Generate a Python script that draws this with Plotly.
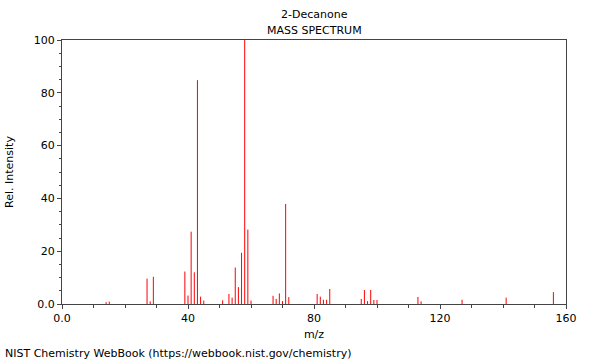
import plotly.graph_objects as go

mz = [14, 15, 27, 28, 29, 39, 40, 41, 42, 43, 44, 45, 51, 53, 54, 55, 56, 57, 58, 59, 60,
      67, 68, 69, 70, 71, 72, 81, 82, 83, 84, 85, 95, 96, 97, 98, 99, 100,
      113, 114, 127, 141, 156]
intensity = [0.7, 0.9, 9.6, 1.0, 10.3, 12.3, 3.2, 27.4, 12.0, 84.8, 2.8, 1.3, 1.4, 3.8, 2.4,
             13.8, 6.4, 19.4, 100.0, 28.2, 1.3,
             3.1, 1.9, 4.0, 1.1, 37.9, 2.6, 3.8, 2.8, 1.6, 1.6, 5.7, 1.9, 5.3, 1.1, 5.3, 1.5, 1.5,
             2.7, 1.0, 1.6, 2.4, 4.5]

ytick_vals = [0, 20, 40, 60, 80, 100]
ytick_text = ["0.0", "20", "40", "60", "80", "100"]
xtick_vals = [0, 40, 80, 120, 160]
xtick_text = ["0.0", "40", "80", "120", "160"]

xs, ys = [], []
for m, v in zip(mz, intensity):
    xs += [m, m, None]
    ys += [0, v, None]

fig = go.Figure(go.Scatter(x=xs, y=ys, mode="lines",
                           line=dict(color="#ff0000", width=1),
                           hoverinfo="skip", showlegend=False))

font = dict(family="DejaVu Sans", size=11, color="#000000")
fig.update_layout(
    width=600, height=360,
    margin=dict(l=62, r=34, t=40, b=56),
    paper_bgcolor="white", plot_bgcolor="white",
    font=font,
    showlegend=False,
)
fig.update_xaxes(range=[0, 160], tickvals=xtick_vals, ticktext=xtick_text,
                 ticks="outside", ticklen=4, tickcolor="#444", tickwidth=1,
                 showline=True, linecolor="#444", linewidth=1, mirror=True,
                 showgrid=False, zeroline=False, automargin=False,
                 minor=dict(dtick=10, tick0=0, ticks="outside", ticklen=3, tickcolor="#444", showgrid=False),
                 title=dict(text="m/z", standoff=6, font=font), tickfont=font)
fig.update_yaxes(range=[0, 100], tickvals=ytick_vals, ticktext=ytick_text,
                 ticks="outside", ticklen=4, tickcolor="#444", tickwidth=1,
                 showline=True, linecolor="#444", linewidth=1, mirror=True,
                 showgrid=False, zeroline=False, automargin=False,
                 minor=dict(dtick=5, tick0=0, ticks="outside", ticklen=2, tickcolor="#444", showgrid=False),
                 title=dict(text="Rel. Intensity", standoff=17, font=font), tickfont=font)

fig.add_annotation(text="2-Decanone", xref="paper", yref="paper", x=0.5, y=1.0,
                   yshift=26, showarrow=False, font=font, xanchor="center", yanchor="middle")
fig.add_annotation(text="MASS SPECTRUM", xref="paper", yref="paper", x=0.5, y=1.0,
                   yshift=10, showarrow=False, font=font, xanchor="center", yanchor="middle")
fig.add_annotation(text="NIST Chemistry WebBook (https://webbook.nist.gov/chemistry)",
                   xref="paper", yref="paper", x=0, y=0, xshift=-59, yshift=-49,
                   showarrow=False, font=font, xanchor="left", yanchor="middle")

fig.write_html("out.html", config={"displayModeBar": False},
               post_script="document.body.style.margin='0';document.body.style.overflow='hidden';")
